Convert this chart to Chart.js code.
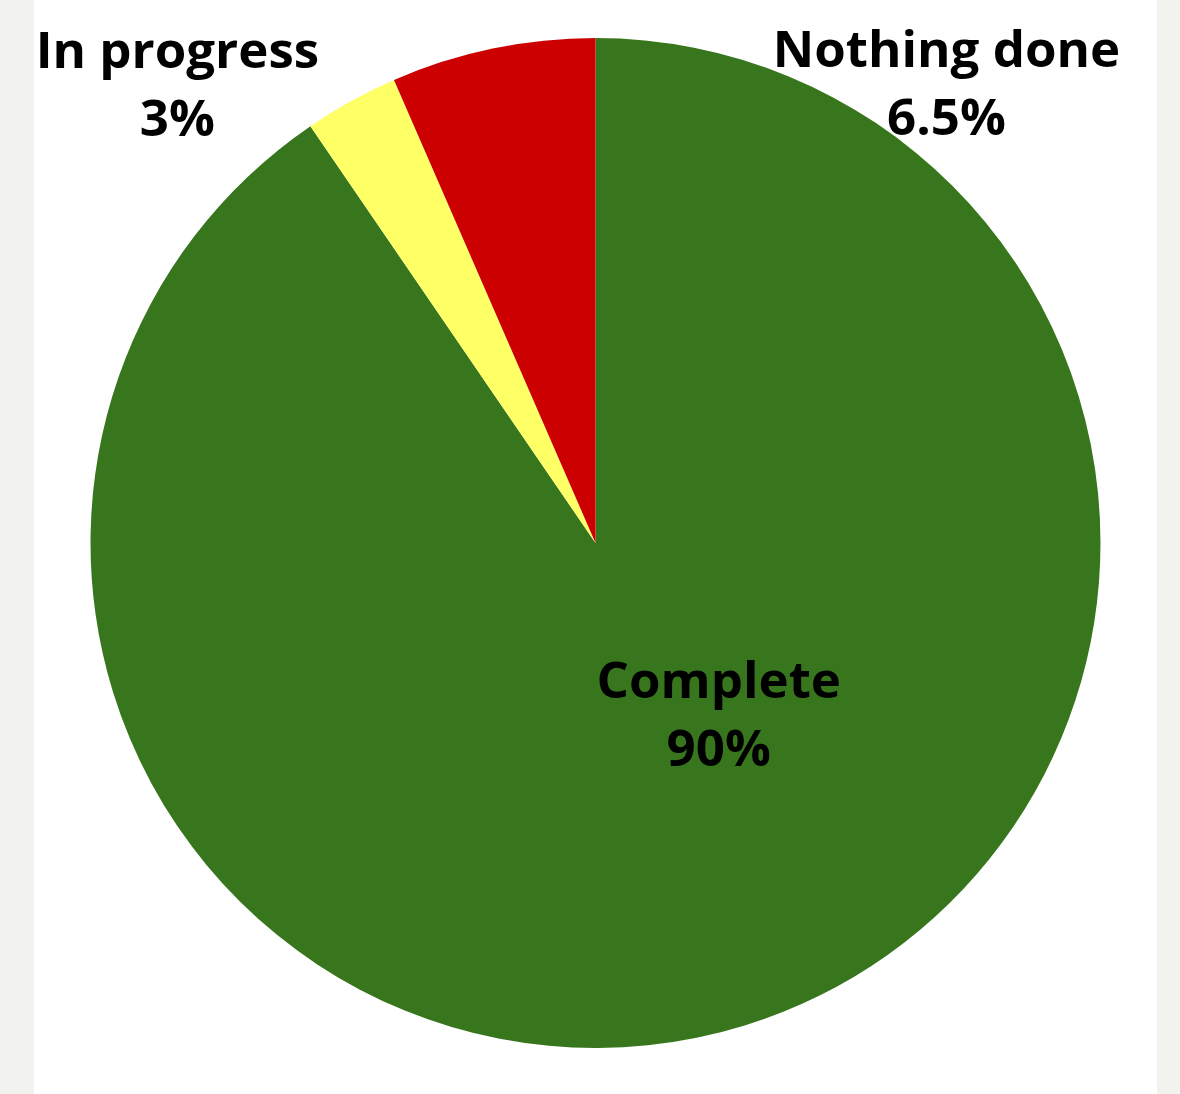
<!DOCTYPE html>
<html>
<head>
<meta charset="utf-8">
<script src="https://cdn.jsdelivr.net/npm/chart.js@4/dist/chart.umd.min.js"></script>
<style>
  html, body { margin: 0; padding: 0; background: #f2f2ee; }
  #panel { position: absolute; left: 34px; top: 0; width: 1123px; height: 1094px; background: #fff; }
  #grafico { display: block; }
</style>
</head>
<body>
<div id="panel"><canvas id="grafico" width="1123" height="1094"></canvas></div>
<script>
var labels = ["Complete", "In progress", "Nothing done"] // categorias
var valores = [90, 3, 6.5] // percentuais
var textos = ["90%", "3%", "6.5%"]
var cores = ["#38761d", "#ffff66", "#cc0000"]

// onde fica cada rotulo, relativo ao centro e raio da pizza
var posRotulos = [
  { dx: 0.244, dy: 0.307 },
  { dx: -0.828, dy: -0.94 },
  { dx: 0.695, dy: -0.942 }
]

var rotulosPlugin = {
  id: "rotulos",
  afterDatasetsDraw: function(chart) {
    var ctx = chart.ctx
    var arcs = chart.getDatasetMeta(0).data
    if (!arcs.length) return
    var cx = arcs[0].x, cy = arcs[0].y, r = arcs[0].outerRadius
    ctx.save()
    ctx.fillStyle = "#000"
    ctx.font = "bold 51px 'Open Sans'"
    ctx.textAlign = "center"
    ctx.textBaseline = "alphabetic"
    for (var i = 0; i < labels.length; i++) {
      var x = cx + posRotulos[i].dx * r
      var y = cy + posRotulos[i].dy * r
      ctx.fillText(labels[i], x, y)
      ctx.fillText(textos[i], x, y + 68)
    }
    ctx.restore()
  }
}

document.fonts.load("bold 51px 'Open Sans'").then(function() {
  var ctx = document.getElementById('grafico').getContext('2d');
  var chart = new Chart(ctx, {
    type: "pie",
    data: {
      labels: labels,
      datasets: [{
        data: valores,
        backgroundColor: cores,
        borderWidth: 0
      }]
    },
    options: {
      responsive: false,
      animation: false,
      layout: { padding: { top: 38, bottom: 46, left: 0, right: 0 } },
      plugins: {
        legend: { display: false },
        tooltip: { enabled: false }
      }
    },
    plugins: [rotulosPlugin]
  });
});
</script>
</body>
</html>
